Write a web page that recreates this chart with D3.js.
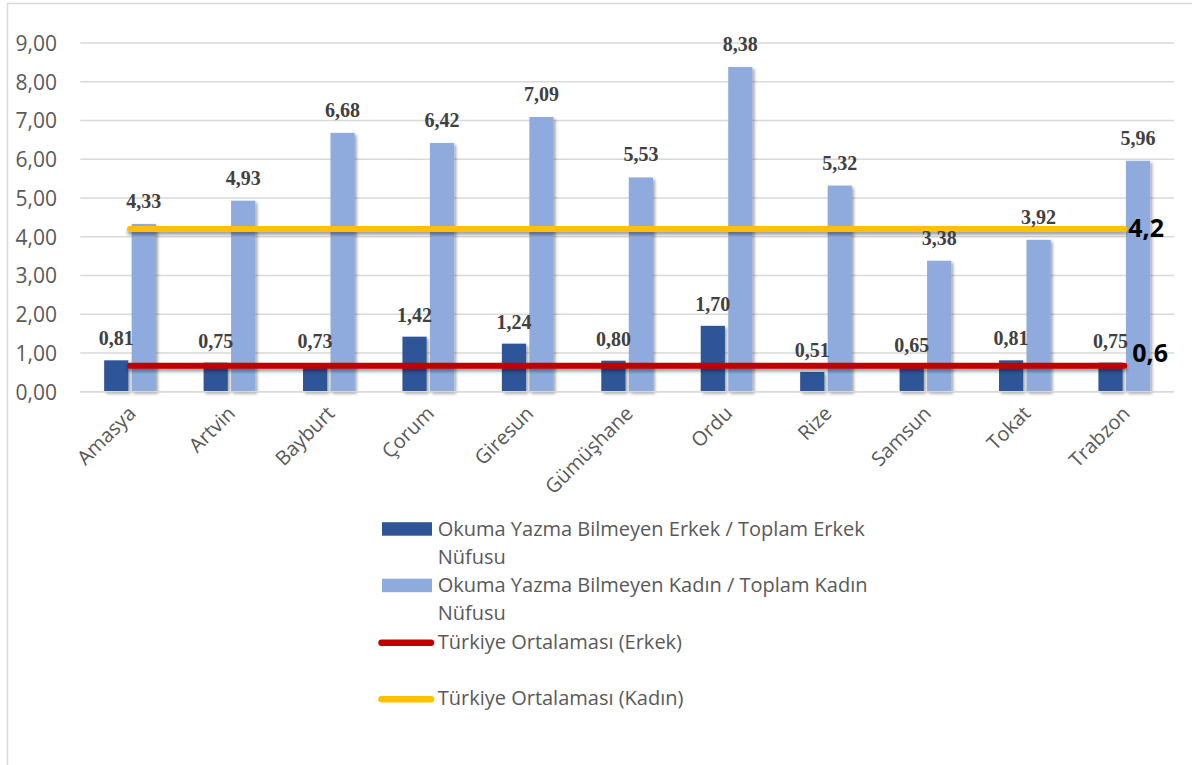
<!DOCTYPE html>
<html><head><meta charset="utf-8">
<script src="https://cdn.jsdelivr.net/npm/d3@7/dist/d3.min.js"></script>
<style>body{margin:0;background:#fff}svg{display:block}</style>
</head><body>
<svg id="c" width="1192" height="765"></svg>
<script>
const categories = ["Amasya","Artvin","Bayburt","Çorum","Giresun","Gümüşhane","Ordu","Rize","Samsun","Tokat","Trabzon"];
const erkek = [0.81,0.75,0.73,1.42,1.24,0.80,1.70,0.51,0.65,0.81,0.75];
const kadin = [4.33,4.93,6.68,6.42,7.09,5.53,8.38,5.32,3.38,3.92,5.96];
const avgErkek = 0.67, avgKadin = 4.2;
const avgErkekLabel = "0,6", avgKadinLabel = "4,2";
const yTicks = [0,1,2,3,4,5,6,7,8,9];
const legendItems = [
  {type:"rect", color:"#2F5597", lines:["Okuma Yazma Bilmeyen Erkek / Toplam Erkek","Nüfusu"]},
  {type:"rect", color:"#8FAADC", lines:["Okuma Yazma Bilmeyen Kadın / Toplam Kadın","Nüfusu"]},
  {type:"line", color:"#C00000", lines:["Türkiye Ortalaması (Erkek)"]},
  {type:"line", color:"#FFC000", lines:["Türkiye Ortalaması (Kadın)"]}
];

const svg = d3.select("#c");
const fmt = v => d3.format(".2f")(v).replace(".", ",");
const sans = "'Open Sans', sans-serif";

const defs = svg.append("defs");
const f = defs.append("filter").attr("id","sh").attr("x","-20%").attr("y","-20%").attr("width","150%").attr("height","200%");
f.append("feDropShadow").attr("dx",2).attr("dy",2).attr("stdDeviation",1.5).attr("flood-color","#000").attr("flood-opacity",0.35);
const f2 = defs.append("filter").attr("id","sh2").attr("filterUnits","userSpaceOnUse")
  .attr("x",0).attr("y",0).attr("width",1192).attr("height",765);
f2.append("feDropShadow").attr("dx",0).attr("dy",3).attr("stdDeviation",1.5).attr("flood-color","#000").attr("flood-opacity",0.35);

// chart border
svg.append("rect").attr("x",7.5).attr("y",3.5).attr("width",1200).attr("height",800)
  .attr("fill","none").attr("stroke","#d9d9d9").attr("stroke-width",1.5);

const x0 = 80.3, x1 = 1174, yTop = 43, yBot = 391.7;
const x = d3.scaleBand().domain(categories).range([x0, x1]);
const y = d3.scaleLinear().domain([0,9]).range([yBot, yTop]);

// gridlines
svg.append("g").selectAll("line").data(yTicks).join("line")
  .attr("x1",x0).attr("x2",x1).attr("y1",d=>y(d)).attr("y2",d=>y(d))
  .attr("stroke","#d9d9d9").attr("stroke-width",1.5);

// y axis labels
const yAxis = d3.axisLeft(y).tickValues(yTicks).tickFormat(fmt).tickSize(0).tickPadding(0);
const ya = svg.append("g").attr("transform","translate(57,0)").call(yAxis);
ya.select(".domain").remove();
ya.selectAll("text").attr("font-family",sans).attr("font-size",21).attr("fill","#595959").attr("dy","0.35em");

// x axis labels
const xAxis = d3.axisBottom(x).tickSize(0).tickPadding(0);
const xa = svg.append("g").attr("transform",`translate(0,${yBot})`).call(xAxis);
xa.select(".domain").remove();
xa.selectAll("text").attr("font-family",sans).attr("font-size",20).attr("fill","#595959")
  .attr("text-anchor","end").attr("dy",0).attr("y",0)
  .attr("transform","translate(7,23) rotate(-45)");

const bw = x.bandwidth();
const xs = d3.scaleBand().domain(["e","k"]).range([bw*0.24, bw*0.76]).paddingInner(0.12);

const g = svg.append("g");
const data = categories.map((c,i)=>({c, e:erkek[i], k:kadin[i]}));
g.selectAll("rect.e").data(data).join("rect").attr("class","e")
  .attr("x",d=>x(d.c)+xs("e")).attr("width",xs.bandwidth())
  .attr("y",d=>y(d.e)).attr("height",d=>yBot-y(d.e)).attr("fill","#2F5597").attr("filter","url(#sh)");
g.selectAll("rect.k").data(data).join("rect").attr("class","k")
  .attr("x",d=>x(d.c)+xs("k")).attr("width",xs.bandwidth())
  .attr("y",d=>y(d.k)).attr("height",d=>yBot-y(d.k)).attr("fill","#8FAADC").attr("filter","url(#sh)");

// axis line
svg.append("line").attr("x1",x0).attr("x2",x1).attr("y1",yBot).attr("y2",yBot)
  .attr("stroke","#d9d9d9").attr("stroke-width",1.5);

// average lines
const cx = c => x(c)+bw/2;
[[avgKadin,"#FFC000"],[avgErkek,"#C00000"]].forEach(([v,col])=>{
  svg.append("path").datum(categories).attr("d", d3.line().x(c=>cx(c)).y(()=>y(v)))
    .attr("fill","none").attr("stroke",col).attr("stroke-width",6).attr("stroke-linecap","round").attr("filter","url(#sh2)");
});

// data labels
const lab = svg.append("g").attr("font-family","'Liberation Serif', serif").attr("font-weight","bold")
  .attr("font-size",20).attr("fill","#404040").attr("text-anchor","middle");
lab.selectAll("text.e").data(data).join("text").attr("class","e")
  .attr("x",d=>x(d.c)+xs("e")+xs.bandwidth()/2).attr("y",d=>y(d.e)-15).text(d=>fmt(d.e));
lab.selectAll("text.k").data(data).join("text").attr("class","k")
  .attr("x",d=>x(d.c)+xs("k")+xs.bandwidth()/2).attr("y",d=>y(d.k)-16).text(d=>fmt(d.k));

// avg labels
const last = categories[categories.length-1];
svg.append("text").attr("x",cx(last)+4).attr("y",y(avgKadin)+8).attr("font-family",sans).attr("font-weight","bold")
  .attr("font-size",25).attr("fill","#000").text(avgKadinLabel);
svg.append("text").attr("x",cx(last)+8).attr("y",y(avgErkek)-4).attr("font-family",sans).attr("font-weight","bold")
  .attr("font-size",25).attr("fill","#000").text(avgErkekLabel);

// legend
const lg = svg.append("g").attr("font-family",sans).attr("font-size",20).attr("fill","#595959");
legendItems.forEach((it,i)=>{
  const base = 535.7 + i*56.5;
  if(it.type==="rect"){
    lg.append("rect").attr("x",382).attr("y",base-13.5).attr("width",50).attr("height",13.5).attr("fill",it.color);
  } else {
    lg.append("line").attr("x1",381.5).attr("x2",431).attr("y1",base-6).attr("y2",base-6)
      .attr("stroke",it.color).attr("stroke-width",6.5).attr("stroke-linecap","round");
  }
  it.lines.forEach((t,j)=>{
    lg.append("text").attr("x",437.7).attr("y",base+j*28).text(t);
  });
});
</script>
</body></html>
